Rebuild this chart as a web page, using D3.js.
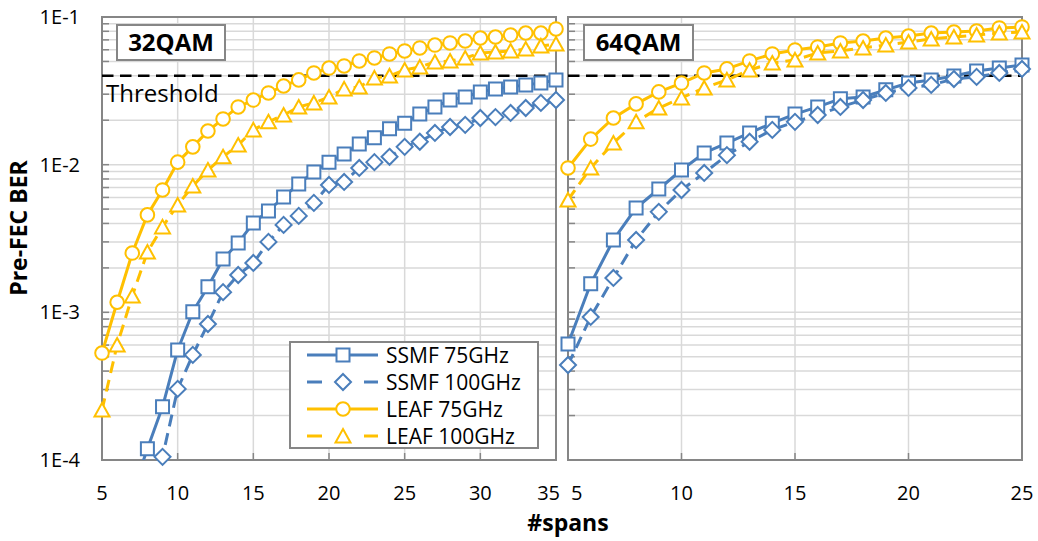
<!DOCTYPE html>
<html><head><meta charset="utf-8">
<script src="https://cdn.jsdelivr.net/npm/d3@7"></script>
<style>
body{margin:0;background:#fff}
svg{display:block;font-family:"Open Sans",sans-serif}
</style></head><body>
<svg id="c" width="1038" height="541"></svg>
<script>
// ---------- data ----------
const spans32 = [5,6,7,8,9,10,11,12,13,14,15,16,17,18,19,20,21,22,23,24,25,26,27,28,29,30,31,32,33,34,35];
const ssmf75_32 = [null,null,6e-5,1.19e-4,2.29e-4,5.56e-4,1.01e-3,1.49e-3,2.30e-3,2.95e-3,4.03e-3,4.86e-3,6.04e-3,7.40e-3,8.93e-3,1.04e-2,1.18e-2,1.38e-2,1.52e-2,1.75e-2,1.91e-2,2.20e-2,2.46e-2,2.74e-2,2.87e-2,3.11e-2,3.26e-2,3.36e-2,3.47e-2,3.57e-2,3.75e-2];
const ssmf100_32 = [null,null,null,4e-5,1.05e-4,3.03e-4,5.15e-4,8.34e-4,1.37e-3,1.79e-3,2.16e-3,3.0e-3,3.91e-3,4.5e-3,5.51e-3,7.29e-3,7.64e-3,9.5e-3,1.04e-2,1.13e-2,1.32e-2,1.43e-2,1.64e-2,1.80e-2,1.86e-2,2.07e-2,2.10e-2,2.24e-2,2.42e-2,2.62e-2,2.74e-2];
const leaf75_32 = [5.3e-4,1.17e-3,2.52e-3,4.57e-3,6.74e-3,1.04e-2,1.32e-2,1.69e-2,2.04e-2,2.46e-2,2.74e-2,3.06e-2,3.41e-2,3.75e-2,4.18e-2,4.51e-2,4.66e-2,5.04e-2,5.28e-2,5.62e-2,5.89e-2,6.17e-2,6.46e-2,6.67e-2,6.88e-2,7.21e-2,7.32e-2,7.55e-2,7.79e-2,7.79e-2,8.30e-2];
const leaf100_32 = [2.18e-4,6.0e-4,1.29e-3,2.56e-3,3.79e-3,5.33e-3,7.17e-3,9.2e-3,1.13e-2,1.36e-2,1.72e-2,1.95e-2,2.17e-2,2.46e-2,2.62e-2,2.87e-2,3.26e-2,3.36e-2,3.87e-2,3.99e-2,4.38e-2,4.59e-2,4.96e-2,5.04e-2,5.28e-2,5.71e-2,5.80e-2,5.89e-2,6.07e-2,6.37e-2,6.56e-2];

const spans64 = [5,6,7,8,9,10,11,12,13,14,15,16,17,18,19,20,21,22,23,24,25];
const ssmf75_64 = [6.11e-4,1.56e-3,3.09e-3,5.09e-3,6.84e-3,9.2e-3,1.20e-2,1.40e-2,1.64e-2,1.91e-2,2.20e-2,2.46e-2,2.79e-2,2.87e-2,3.21e-2,3.57e-2,3.75e-2,3.99e-2,4.31e-2,4.51e-2,4.73e-2];
const ssmf100_64 = [4.40e-4,9.31e-4,1.71e-3,3.09e-3,4.79e-3,6.74e-3,8.79e-3,1.16e-2,1.43e-2,1.72e-2,1.95e-2,2.17e-2,2.46e-2,2.74e-2,3.06e-2,3.31e-2,3.47e-2,3.80e-2,3.93e-2,4.18e-2,4.45e-2];
const leaf75_64 = [9.5e-3,1.49e-2,2.07e-2,2.58e-2,3.11e-2,3.57e-2,4.18e-2,4.45e-2,5.04e-2,5.62e-2,5.98e-2,6.27e-2,6.67e-2,6.88e-2,7.21e-2,7.43e-2,7.79e-2,7.91e-2,8.04e-2,8.43e-2,8.56e-2];
const leaf100_64 = [5.77e-3,9.5e-3,1.40e-2,1.95e-2,2.42e-2,2.83e-2,3.31e-2,3.75e-2,4.38e-2,4.88e-2,5.12e-2,5.71e-2,5.89e-2,6.17e-2,6.46e-2,6.77e-2,7.10e-2,7.32e-2,7.55e-2,7.79e-2,7.91e-2];

const seriesNames = ["SSMF 75GHz","SSMF 100GHz","LEAF 75GHz","LEAF 100GHz"];
const panelTitles = ["32QAM","64QAM"];
const yTickValues = [1e-4,1e-3,1e-2,1e-1];
const yTickLabels = ["1E-4","1E-3","1E-2","1E-1"];
const xTicks32 = [5,10,15,20,25,30,35];
const xTicks64 = [5,10,15,20,25];
const threshold = 0.04;
const thresholdLabel = "Threshold";
const xTitle = "#spans";
const yTitle = "Pre-FEC BER";

// ---------- styles ----------
const BLUE = "#4a7ebb", GOLD = "#ffc000";
const styles = [
  {color:BLUE, dash:null, marker:"square"},
  {color:BLUE, dash:"12,7", marker:"diamond"},
  {color:GOLD, dash:null, marker:"circle"},
  {color:GOLD, dash:"12,7", marker:"triangle"}
];
const markerPath = {
  square: "M-6.5,-6.5h13v13h-13Z",
  diamond: "M0,-8L8,0L0,8L-8,0Z",
  circle: "M6.8,0A6.8,6.8 0 1,1 -6.8,0A6.8,6.8 0 1,1 6.8,0Z",
  triangle: "M0,-7L7.5,6.5L-7.5,6.5Z"
};

const svg = d3.select("#c");
const y = d3.scaleLog().domain([1e-4,1e-1]).range([460,17]);
const TOP = 17, BOT = 460;

const panels = [
  {title:panelTitles[0], x:d3.scaleLinear().domain([5,35]).range([102,556]), spans:spans32,
   data:[ssmf75_32,ssmf100_32,leaf75_32,leaf100_32], ticks:xTicks32, showY:true, box:[117,25,108,35]},
  {title:panelTitles[1], x:d3.scaleLinear().domain([5,25]).range([568,1022]), spans:spans64,
   data:[ssmf75_64,ssmf100_64,leaf75_64,leaf100_64], ticks:xTicks64, showY:false, box:[584,25,109,35]}
];

panels.forEach((p,pi)=>{
  const [x0,x1] = p.x.range();
  const g = svg.append("g");
  const clipId = "clip"+pi;
  svg.append("defs").append("clipPath").attr("id",clipId)
    .append("rect").attr("x",x0).attr("y",TOP).attr("width",x1-x0).attr("height",BOT-TOP);

  g.append("g").selectAll("line").data(y.ticks()).join("line")
    .attr("x1",x0).attr("x2",x1).attr("y1",d=>y(d)).attr("y2",d=>y(d))
    .attr("stroke","#d9d9d9").attr("stroke-width",1.5);
  g.append("g").selectAll("line").data(p.ticks.slice(1,-1)).join("line")
    .attr("x1",d=>p.x(d)).attr("x2",d=>p.x(d)).attr("y1",TOP).attr("y2",BOT)
    .attr("stroke","#d9d9d9").attr("stroke-width",1.5);

  g.append("g").selectAll("line").data(y.ticks()).join("line")
    .attr("x1",x0).attr("x2",x0+7).attr("y1",d=>y(d)).attr("y2",d=>y(d))
    .attr("stroke","#868686").attr("stroke-width",1.5);
  g.append("g").selectAll("line").data(p.ticks).join("line")
    .attr("x1",d=>p.x(d)).attr("x2",d=>p.x(d)).attr("y1",BOT).attr("y2",BOT-7)
    .attr("stroke","#868686").attr("stroke-width",1.5);

  g.append("rect").attr("x",x0).attr("y",TOP).attr("width",x1-x0).attr("height",BOT-TOP)
    .attr("fill","none").attr("stroke","#868686").attr("stroke-width",2);

  g.append("line").attr("x1",x0).attr("x2",x1).attr("y1",y(threshold)).attr("y2",y(threshold))
    .attr("stroke","#000").attr("stroke-width",2.6).attr("stroke-dasharray","11.5,6.5");

  p.data.forEach((vals,si)=>{
    const st = styles[si];
    const pts = p.spans.map((s,i)=>({x:s,v:vals[i]})).filter(d=>d.v!=null);
    const line = d3.line().x(d=>p.x(d.x)).y(d=>y(d.v));
    g.append("path").datum(pts).attr("d",line).attr("fill","none")
      .attr("stroke",st.color).attr("stroke-width",3)
      .attr("stroke-dasharray",st.dash).attr("stroke-linejoin","round")
      .attr("clip-path",`url(#${clipId})`);
    g.append("g").selectAll("path").data(pts.filter(d=>d.v>=1e-4)).join("path")
      .attr("d",markerPath[st.marker])
      .attr("transform",d=>`translate(${p.x(d.x)},${y(d.v)})`)
      .attr("fill","#fff").attr("stroke",st.color).attr("stroke-width",2);
  });

  const last = p.ticks[p.ticks.length-1], first = p.ticks[0];
  g.append("g").selectAll("text").data(p.ticks).join("text")
    .attr("x",d=>p.x(d) + ((pi===0 && d===last)?4:(pi===1 && d===first)?3:0))
    .attr("y",500)
    .attr("text-anchor",d=>(pi===0 && d===last)?"end":(pi===1 && d===first)?"start":"middle")
    .attr("font-size",20).attr("fill","#000").text(d=>d);

  if(p.showY){
    g.append("g").selectAll("text").data(yTickValues).join("text")
      .attr("x",x0-22).attr("y",d=>y(d)).attr("dy","0.35em")
      .attr("text-anchor","end").attr("font-size",20).attr("fill","#000")
      .text((d,i)=>yTickLabels[i]);
    g.append("text").attr("x",106).attr("y",102).attr("font-size",24).attr("fill","#000").text(thresholdLabel);
  }

  const [bx,by,bw,bh] = p.box;
  g.append("rect").attr("x",bx).attr("y",by).attr("width",bw).attr("height",bh)
    .attr("fill","#fff").attr("stroke","#868686").attr("stroke-width",2);
  g.append("text").attr("x",bx+bw/2).attr("y",by+bh/2).attr("dy","0.36em")
    .attr("text-anchor","middle").attr("font-size",24).attr("font-weight",700).attr("fill","#000")
    .text(p.title);
});

// legend
const lg = svg.append("g");
lg.append("rect").attr("x",290).attr("y",342).attr("width",248).attr("height",106)
  .attr("fill","#fff").attr("stroke","#868686").attr("stroke-width",2);
seriesNames.forEach((name,i)=>{
  const st = styles[i];
  const cy = 355 + i*27;
  if(st.dash){
    [[307,322],[364,378]].forEach(([a,b])=>{
      lg.append("line").attr("x1",a).attr("x2",b).attr("y1",cy).attr("y2",cy)
        .attr("stroke",st.color).attr("stroke-width",3);
    });
  } else {
    lg.append("line").attr("x1",307).attr("x2",378).attr("y1",cy).attr("y2",cy)
      .attr("stroke",st.color).attr("stroke-width",3);
  }
  lg.append("path").attr("d",markerPath[st.marker]).attr("transform",`translate(343,${cy})`)
    .attr("fill","#fff").attr("stroke",st.color).attr("stroke-width",2);
  lg.append("text").attr("x",386).attr("y",cy).attr("dy","0.36em")
    .attr("font-size",21).attr("fill","#000").text(name);
});

// axis titles
svg.append("text").attr("x",568).attr("y",531).attr("text-anchor","middle")
  .attr("font-size",23).attr("font-weight",700).attr("fill","#000").text(xTitle);
svg.append("text").attr("transform","translate(27,228) rotate(-90)").attr("text-anchor","middle")
  .attr("font-size",23).attr("font-weight",700).attr("fill","#000").text(yTitle);
</script>
</body></html>
